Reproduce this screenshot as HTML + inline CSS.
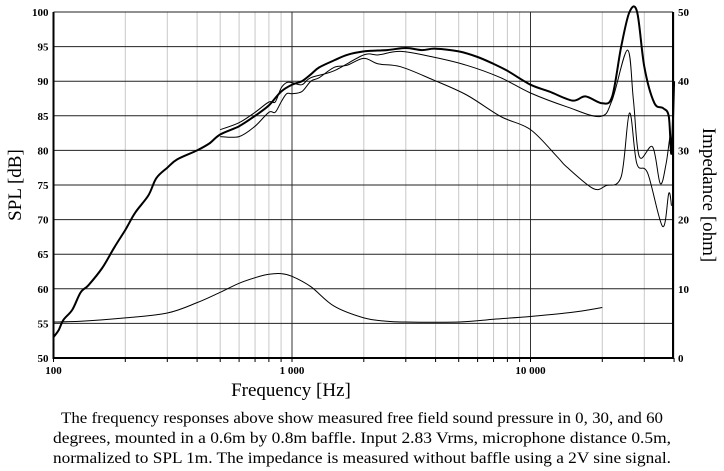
<!DOCTYPE html>
<html><head><meta charset="utf-8"><style>
html,body{margin:0;padding:0;background:#fff;width:724px;height:471px;overflow:hidden}
svg{display:block;font-family:"Liberation Serif",serif}
</style></head><body>
<svg id="chart" width="724" height="471" viewBox="0 0 724 471" xmlns="http://www.w3.org/2000/svg">
<g id="grid"></g>
<g id="series"></g>
<g id="axes"></g>
<text transform="translate(21,185) rotate(-90)" text-anchor="middle" font-size="19">SPL [dB]</text>
<text transform="translate(703,195) rotate(90)" text-anchor="middle" font-size="19">Impedance [ohm]</text>
<text x="291" y="396" text-anchor="middle" font-size="19">Frequency [Hz]</text>
<g font-size="15.5" text-anchor="middle">
<text x="362" y="423" textLength="602" lengthAdjust="spacingAndGlyphs">The frequency responses above show measured free field sound pressure in 0, 30, and 60</text>
<text x="362" y="443" textLength="618" lengthAdjust="spacingAndGlyphs">degrees, mounted in a 0.6m by 0.8m baffle. Input 2.83 Vrms, microphone distance 0.5m,</text>
<text x="362" y="463" textLength="618" lengthAdjust="spacingAndGlyphs">normalized to SPL 1m. The impedance is measured without baffle using a 2V sine signal.</text>
</g>
</svg>
<script>
const spl0F=[100,105,110,120,130,140,160,180,200,220,250,270,300,330,400,450,500,600,700,800,900,1000,1100,1200,1300,1500,1700,2000,2500,3000,3500,4000,5000,6000,7000,8000,10000,12000,15000,17000,20000,22000,24000,26000,28000,30000,33000,36000,38000,39000,40000];
const spl0V=[53,54,55.5,57,59.5,60.5,63,66,68.5,71,73.5,76,77.5,78.7,80,81,82.3,83.5,85,86.5,88.5,89.5,90,91,92,93,93.8,94.3,94.5,94.8,94.5,94.7,94.3,93.5,92.5,91.5,89.5,88.5,87.2,87.8,86.8,87.8,95,101,100,92.1,86.9,86.1,84.9,79.6,90];
const spl30F=[500,600,700,800,850,900,950,1000,1100,1200,1500,2000,2300,2850,3900,5400,7500,10000,14200,19600,22000,25500,27000,28600,32500,35000,37000,38500,39000];
const spl30V=[83,84,85.5,87,87,89,89.8,89.8,89.5,90.5,91.5,93.8,93.8,94.3,93.5,92.3,90.5,88.3,86.3,84.9,87.3,94.5,87.3,79.1,80.5,75.2,78,82,80];
const spl60F=[500,600,700,800,850,900,950,1000,1100,1200,1300,1500,1700,2000,2300,2850,3900,5400,7500,10000,13000,14200,18300,20700,24000,26000,27900,31000,35800,38000,39000];
const spl60V=[82,82,83.5,85.5,85.5,87,88.2,88.2,88.5,90,90.5,92,92.3,93.3,92.5,92.1,90.2,88,84.9,83,79,77.6,74.5,74.9,76.2,85.4,78.1,76.7,69,73.8,72];
const impF=[100,130,200,300,400,500,600,700,800,900,1000,1200,1500,2000,2500,3000,5000,7000,10000,15000,20000];
const impV=[5.2,5.3,5.8,6.5,8,9.5,10.8,11.6,12.1,12.2,11.8,10.3,7.5,5.8,5.3,5.2,5.2,5.6,6.0,6.6,7.3];
const splTicks=[50,55,60,65,70,75,80,85,90,95,100];
const impTicks=[0,10,20,30,40,50];
const xTickLabels=["100","1 000","10 000"];
const xTickVals=[100,1000,10000];

const L=53.5,R=673,T=12,B=358;
const x=f=>L+(Math.log10(f)-2)*238.5;
const y=d=>B-(d-50)*(B-T)/50;
const yi=o=>B-o*(B-T)/50;
const NS="http://www.w3.org/2000/svg";
function mk(tag,parent,attrs){const e=document.createElementNS(NS,tag);for(const k in attrs)e.setAttribute(k,attrs[k]);parent.appendChild(e);return e;}
const grid=document.getElementById('grid'),axes=document.getElementById('axes'),series=document.getElementById('series');
for(let dec=100;dec<=10000;dec*=10){for(let m=1;m<=9;m++){const f=dec*m;if(f>40000)break;const X=x(f);
 const l=mk('line',grid,{x1:X,x2:X,y1:T,y2:B,stroke:m===1?'#333':'#c8c8c8','stroke-width':1});
 
 
 const t=mk('line',axes,{x1:X,x2:X,y1:B,y2:B+4,stroke:'#000'});
 
 
}}
splTicks.forEach(v=>{const Y=y(v);
 const l=mk('line',grid,{x1:L,x2:R,y1:Y,y2:Y,stroke:'#222','stroke-width':1});
 
 
 const t=mk('text',axes,{x:L-5,y:Y+4,'text-anchor':'end','font-size':11,'font-weight':'bold'});t.textContent=v;
 
 
});
impTicks.forEach(v=>{const Y=yi(v);
 const t=mk('text',axes,{x:R+5,y:Y+4,'font-size':11,'font-weight':'bold'});t.textContent=v;
 
 
});
xTickVals.forEach((f,i)=>{const t=mk('text',axes,{x:x(f),y:B+16,'text-anchor':'middle','font-size':11,'font-weight':'bold'});t.textContent=xTickLabels[i];
 
 
});
const fr=mk('path',axes,{d:`M${L} ${T}V${B}H${R}V${T}`,fill:'none',stroke:'#000','stroke-width':2});


function path(F,V,fy,w,name){
 const P=F.map((f,i)=>[x(f),Math.max(T,fy(V[i]))]);
 let d='M'+P[0][0].toFixed(1)+' '+P[0][1].toFixed(1);
 for(let i=0;i<P.length-1;i++){const p0=P[Math.max(0,i-1)],p1=P[i],p2=P[i+1],p3=P[Math.min(P.length-1,i+2)];
  const c1=[p1[0]+(p2[0]-p0[0])/6,p1[1]+(p2[1]-p0[1])/6],c2=[p2[0]-(p3[0]-p1[0])/6,p2[1]-(p3[1]-p1[1])/6];
  d+=`C${c1[0].toFixed(1)} ${c1[1].toFixed(1)} ${c2[0].toFixed(1)} ${c2[1].toFixed(1)} ${p2[0].toFixed(1)} ${p2[1].toFixed(1)}`;}
 const p=mk('path',series,{d:d,fill:'none',stroke:'#000','stroke-width':w,'stroke-linejoin':'round'});
 
 }
path(impF,impV,yi,1,'impedance-curve');
path(spl60F,spl60V,y,1,'spl-60deg-curve');
path(spl30F,spl30V,y,1,'spl-30deg-curve');
path(spl0F,spl0V,y,2,'spl-0deg-curve');
</script>
</body></html>
